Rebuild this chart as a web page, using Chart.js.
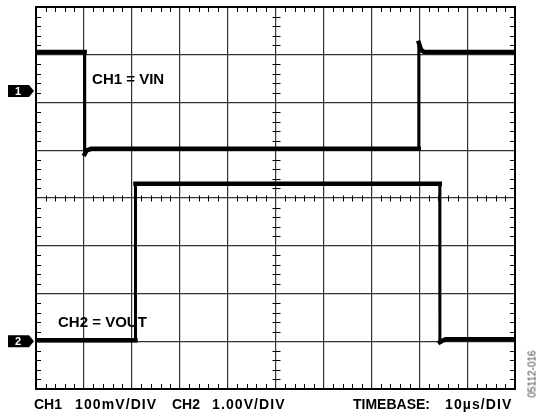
<!DOCTYPE html>
<html>
<head>
<meta charset="utf-8">
<script src="https://cdn.jsdelivr.net/npm/chart.js@4/dist/chart.umd.min.js"></script>
<style>
  body { margin: 0; background: #fff; }
  #wrap { position: relative; width: 545px; height: 413px; }
  #scope { position: absolute; left: 0; top: 0; }
  .cap { position: absolute; top: 396px; font: bold 14px "Liberation Sans", Arial, sans-serif; color: #000; white-space: pre; line-height: 16px; }
  .val { letter-spacing: 1.1px; }
  .fig { position: absolute; left: 532px; top: 374px; font: 10px "Liberation Sans", Arial, sans-serif; color: #444;
         transform: translate(-50%, -50%) rotate(-90deg); white-space: nowrap; }
</style>
</head>
<body>
<div id="wrap">
  <canvas id="scope" width="545" height="413"></canvas>
  <span class="cap" style="left:34px">CH1</span>
  <span class="cap val" style="left:75px">100mV/DIV</span>
  <span class="cap" style="left:172px">CH2</span>
  <span class="cap val" style="left:212px">1.00V/DIV</span>
  <span class="cap" style="left:353px">TIMEBASE:</span>
  <span class="cap val" style="left:445px">10µs/DIV</span>
  <span class="fig">05112-016</span>
</div>
<script>
// time in µs (10 µs/div), level in screen divisions from the bottom (8 div tall)
const ch1Time  = [0, 10.15, 10.17, 10.6, 11.5, 79.9, 79.92, 80.4, 81.0, 100];
const ch1Level = [7.06, 7.06, 4.92, 5.00, 5.03, 5.03, 7.25, 7.10, 7.06, 7.06];

const ch2Time  = [0, 20.75, 20.77, 84.3, 84.32, 84.8, 85.5, 100];
const ch2Level = [1.02, 1.02, 4.30, 4.30, 0.98, 1.01, 1.04, 1.04];

const markerNames  = ['1', '2'];
const markerLevels = [6.24, 1.0];

const traceLabels = ['CH1 = VIN', 'CH2 = VOUT'];
const labelAnchors = [[11.7, 6.48], [4.6, 1.38]];

const toPoints = (ts, vs) => ts.map((t, i) => ({ x: t, y: vs[i] }));

const traceStyle = {
  borderColor: '#000',
  borderWidth: 4.5,
  pointRadius: 0,
  tension: 0,
  borderCapStyle: 'square',
  borderJoinStyle: 'miter',
  segment: {
    // rising / falling edges are drawn thinner, like the scope trace
    borderWidth: (c) => Math.abs(c.p1.parsed.x - c.p0.parsed.x) < 0.1 ? 3 : 4.5,
  },
};

const scopeDeco = {
  id: 'scopeDeco',
  beforeDatasetsDraw(chart) {
    const { ctx, chartArea: a, scales: { x, y } } = chart;
    const xc = Math.round(x.getPixelForValue(50)) + 0.5;
    const yc = Math.round(y.getPixelForValue(4)) + 0.5;
    ctx.save();
    ctx.strokeStyle = '#000';
    ctx.lineWidth = 1;
    ctx.beginPath();
    for (let i = 1; i < 50; i++) {
      if (i % 5 === 0) continue;
      const px = Math.round(x.getPixelForValue(i * 2)) + 0.5;
      ctx.moveTo(px, a.top); ctx.lineTo(px, a.top + 5);
      ctx.moveTo(px, a.bottom); ctx.lineTo(px, a.bottom - 5);
      ctx.moveTo(px, yc - 3); ctx.lineTo(px, yc + 3);
    }
    for (let i = 1; i < 40; i++) {
      if (i % 5 === 0) continue;
      const py = Math.round(y.getPixelForValue(i / 5)) + 0.5;
      ctx.moveTo(a.left, py); ctx.lineTo(a.left + 5, py);
      ctx.moveTo(a.right, py); ctx.lineTo(a.right - 5, py);
      ctx.moveTo(xc - 4, py); ctx.lineTo(xc + 4, py);
    }
    ctx.stroke();
    ctx.lineWidth = 2;
    ctx.strokeRect(a.left, a.top, a.right - a.left, a.bottom - a.top);
    ctx.restore();
  },
  afterDraw(chart) {
    const { ctx, scales: { x, y } } = chart;
    ctx.save();
    ctx.fillStyle = '#000';
    ctx.font = 'bold 15px "Liberation Sans", Arial, sans-serif';
    ctx.textBaseline = 'middle';
    traceLabels.forEach((txt, i) => {
      ctx.fillText(txt, x.getPixelForValue(labelAnchors[i][0]), y.getPixelForValue(labelAnchors[i][1]));
    });
    markerNames.forEach((name, i) => {
      const py = y.getPixelForValue(markerLevels[i]);
      ctx.fillStyle = '#000';
      ctx.beginPath();
      ctx.moveTo(8, py - 6);
      ctx.lineTo(29, py - 6);
      ctx.lineTo(34, py);
      ctx.lineTo(29, py + 6);
      ctx.lineTo(8, py + 6);
      ctx.closePath();
      ctx.fill();
      ctx.fillStyle = '#fff';
      ctx.font = 'bold 11px "Liberation Sans", Arial, sans-serif';
      ctx.textAlign = 'center';
      ctx.fillText(name, 18, py + 0.5);
    });
    ctx.restore();
  },
};

new Chart(document.getElementById('scope'), {
  type: 'line',
  data: {
    datasets: [
      { label: 'CH1', data: toPoints(ch1Time, ch1Level), ...traceStyle },
      { label: 'CH2', data: toPoints(ch2Time, ch2Level), ...traceStyle },
    ],
  },
  options: {
    responsive: false,
    animation: false,
    layout: { padding: { left: 36, right: 30, top: 7, bottom: 24 } },
    plugins: { legend: { display: false }, tooltip: { enabled: false } },
    scales: {
      x: {
        type: 'linear', min: 0, max: 100,
        ticks: { display: false, stepSize: 10 },
        grid: { color: '#333', lineWidth: 1.2, drawTicks: false },
        border: { display: false },
      },
      y: {
        type: 'linear', min: 0, max: 8,
        ticks: { display: false, stepSize: 1 },
        grid: { color: '#333', lineWidth: 1.2, drawTicks: false },
        border: { display: false },
      },
    },
  },
  plugins: [scopeDeco],
});
</script>
</body>
</html>
